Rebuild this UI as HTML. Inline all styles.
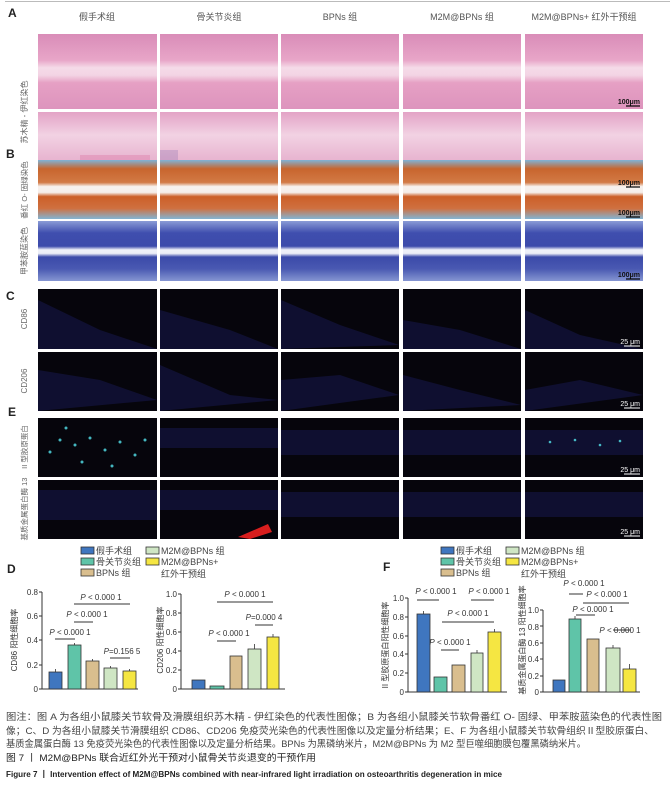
<!DOCTYPE html>
<html><head><meta charset="utf-8"><style>
html,body{margin:0;padding:0;background:#fff;}
svg{display:block;}
text{font-family:"Liberation Sans","Noto Sans CJK SC",sans-serif;}
</style></head><body>
<svg width="670" height="790" viewBox="0 0 670 790" xmlns="http://www.w3.org/2000/svg">
<defs>
<linearGradient id="he1" x1="0" y1="0" x2="0" y2="1">
<stop offset="0" stop-color="#d98cb8"/><stop offset="0.35" stop-color="#e8a6c8"/><stop offset="0.45" stop-color="#f5dbe8"/><stop offset="0.55" stop-color="#f3d4e4"/><stop offset="0.65" stop-color="#e6a0c4"/><stop offset="1" stop-color="#dd94bd"/></linearGradient>
<linearGradient id="he2" x1="0" y1="0" x2="0" y2="1">
<stop offset="0" stop-color="#e3a3c6"/><stop offset="0.3" stop-color="#f2d2e3"/><stop offset="0.6" stop-color="#e8b6d1"/><stop offset="1" stop-color="#e2a4c6"/></linearGradient>
<linearGradient id="so" x1="0" y1="0" x2="0" y2="1">
<stop offset="0" stop-color="#7fb3d6"/><stop offset="0.15" stop-color="#c8652e"/><stop offset="0.38" stop-color="#d27a45"/><stop offset="0.45" stop-color="#f7f2ef"/><stop offset="0.55" stop-color="#f5eeea"/><stop offset="0.62" stop-color="#cc5f28"/><stop offset="0.82" stop-color="#cf7040"/><stop offset="1" stop-color="#82b4d4"/></linearGradient>
<linearGradient id="tb" x1="0" y1="0" x2="0" y2="1">
<stop offset="0" stop-color="#8a9bd6"/><stop offset="0.2" stop-color="#3f4eae"/><stop offset="0.42" stop-color="#3d4bab"/><stop offset="0.48" stop-color="#eef0f8"/><stop offset="0.54" stop-color="#eceef7"/><stop offset="0.6" stop-color="#3b4aa9"/><stop offset="0.8" stop-color="#4a59b2"/><stop offset="1" stop-color="#8595d2"/></linearGradient>
</defs>
<line x1="5" y1="1.5" x2="670" y2="1.5" stroke="#bbb" stroke-width="1"/>
<g font-size="12" font-weight="bold" fill="#222">
<text x="8" y="17">A</text><text x="6" y="158">B</text><text x="6" y="300">C</text><text x="8" y="416">E</text><text x="7" y="573">D</text><text x="383" y="571">F</text>
</g>
<g font-size="9" fill="#555" text-anchor="middle">
<text x="97" y="20">假手术组</text><text x="219" y="20">骨关节炎组</text><text x="340" y="20">BPNs 组</text><text x="462" y="20">M2M@BPNs 组</text><text x="584" y="20">M2M@BPNs+ 红外干预组</text>
</g>
<g font-size="8" fill="#666" text-anchor="middle">
<text transform="translate(27,112) rotate(-90)">苏木精 - 伊红染色</text>
<text transform="translate(27,190) rotate(-90)" font-size="7.5">番红 O- 固绿染色</text>
<text transform="translate(27,251) rotate(-90)">甲苯胺蓝染色</text>
<text transform="translate(27,319) rotate(-90)">CD86</text>
<text transform="translate(27,381) rotate(-90)">CD206</text>
<text transform="translate(27,447) rotate(-90)" font-size="7.5">II 型胶原蛋白</text>
<text transform="translate(27,509) rotate(-90)" font-size="7.5">基质金属蛋白酶 13</text>
</g>
<g id="panels">
<rect x="38" y="34" width="119" height="75" fill="url(#he1)"/><rect x="160" y="34" width="118" height="75" fill="url(#he1)"/><rect x="281" y="34" width="118" height="75" fill="url(#he1)"/><rect x="403" y="34" width="118" height="75" fill="url(#he1)"/><rect x="525" y="34" width="118" height="75" fill="url(#he1)"/>
<rect x="38" y="112" width="119" height="77" fill="url(#he2)"/><rect x="160" y="112" width="118" height="77" fill="url(#he2)"/><rect x="281" y="112" width="118" height="77" fill="url(#he2)"/><rect x="403" y="112" width="118" height="77" fill="url(#he2)"/><rect x="525" y="112" width="118" height="77" fill="url(#he2)"/>
<rect x="80" y="155" width="70" height="34" fill="#de6fa0" opacity="0.35"/>
<rect x="160" y="150" width="18" height="30" fill="#8b6fb0" opacity="0.3"/>
<rect x="38" y="160" width="119" height="59" fill="url(#so)"/><rect x="160" y="160" width="118" height="59" fill="url(#so)"/><rect x="281" y="160" width="118" height="59" fill="url(#so)"/><rect x="403" y="160" width="118" height="59" fill="url(#so)"/><rect x="525" y="160" width="118" height="59" fill="url(#so)"/>
<rect x="38" y="221" width="119" height="60" fill="url(#tb)"/><rect x="160" y="221" width="118" height="60" fill="url(#tb)"/><rect x="281" y="221" width="118" height="60" fill="url(#tb)"/><rect x="403" y="221" width="118" height="60" fill="url(#tb)"/><rect x="525" y="221" width="118" height="60" fill="url(#tb)"/>
<g fill="#06050c">
<rect x="38" y="289" width="119" height="60"/><rect x="160" y="289" width="118" height="60"/><rect x="281" y="289" width="118" height="60"/><rect x="403" y="289" width="118" height="60"/><rect x="525" y="289" width="118" height="60"/>
<rect x="38" y="352" width="119" height="59"/><rect x="160" y="352" width="118" height="59"/><rect x="281" y="352" width="118" height="59"/><rect x="403" y="352" width="118" height="59"/><rect x="525" y="352" width="118" height="59"/>
<rect x="38" y="418" width="119" height="59"/><rect x="160" y="418" width="118" height="59"/><rect x="281" y="418" width="118" height="59"/><rect x="403" y="418" width="118" height="59"/><rect x="525" y="418" width="118" height="59"/>
<rect x="38" y="480" width="119" height="59"/><rect x="160" y="480" width="118" height="59"/><rect x="281" y="480" width="118" height="59"/><rect x="403" y="480" width="118" height="59"/><rect x="525" y="480" width="118" height="59"/>
</g>
<g fill="#2a2e9a" opacity="0.25">
<path d="M38 300 L100 330 L157 349 L38 349Z"/><path d="M160 310 L230 330 L278 349 L160 349Z"/><path d="M281 300 L340 325 L399 345 L281 349Z"/><path d="M403 320 L460 330 L521 349 L403 349Z"/><path d="M525 310 L580 335 L643 349 L525 349Z"/>
<path d="M38 370 L100 380 L157 400 L38 411Z"/><path d="M160 365 L230 395 L278 400 L160 411Z"/><path d="M281 380 L340 375 L399 395 L281 411Z"/><path d="M403 375 L460 390 L521 405 L403 411Z"/><path d="M525 390 L580 380 L643 395 L525 411Z"/>
<rect x="160" y="428" width="118" height="20"/><rect x="281" y="430" width="118" height="25"/><rect x="403" y="430" width="118" height="25"/><rect x="525" y="430" width="118" height="25"/>
<rect x="38" y="490" width="119" height="30"/><rect x="160" y="490" width="118" height="20"/><rect x="281" y="492" width="118" height="25"/><rect x="403" y="492" width="118" height="25"/><rect x="525" y="492" width="118" height="25"/>
</g>
<g fill="#4fd6e0" opacity="0.85">
<circle cx="60" cy="440" r="1.5"/><circle cx="75" cy="445" r="1.5"/><circle cx="90" cy="438" r="1.5"/><circle cx="105" cy="450" r="1.5"/><circle cx="120" cy="442" r="1.5"/><circle cx="135" cy="455" r="1.5"/><circle cx="50" cy="452" r="1.5"/><circle cx="145" cy="440" r="1.5"/><circle cx="82" cy="462" r="1.5"/><circle cx="112" cy="466" r="1.5"/><circle cx="66" cy="428" r="1.5"/>
<circle cx="550" cy="442" r="1.3"/><circle cx="575" cy="440" r="1.3"/><circle cx="600" cy="445" r="1.3"/><circle cx="620" cy="441" r="1.3"/>
</g>
<path d="M238 537 L268 524 L272 532 L250 539Z" fill="#d81e1e"/>
</g>
<g font-size="7" font-weight="bold" fill="#111" text-anchor="end">
<text x="640" y="104">100μm</text><text x="640" y="185">100μm</text><text x="640" y="215">100μm</text><text x="640" y="277">100μm</text>
</g>
<g font-size="7" fill="#fff" text-anchor="end">
<text x="640" y="344">25 μm</text><text x="640" y="406">25 μm</text><text x="640" y="472">25 μm</text><text x="640" y="534">25 μm</text>
</g>
<g stroke="#000" stroke-width="1.2">
<line x1="626" y1="106" x2="640" y2="106"/><line x1="626" y1="187" x2="640" y2="187"/><line x1="626" y1="217" x2="640" y2="217"/><line x1="626" y1="279" x2="640" y2="279"/>
</g>
<g stroke="#fff" stroke-width="1"><line x1="624" y1="346" x2="640" y2="346"/><line x1="624" y1="408" x2="640" y2="408"/><line x1="624" y1="474" x2="640" y2="474"/><line x1="624" y1="536" x2="640" y2="536"/></g>

<g font-size="9" fill="#444" stroke-width="0.8">
<rect x="81" y="547" width="13" height="7" fill="#3f76bf" stroke="#333"/><text x="96" y="554">假手术组</text>
<rect x="81" y="558" width="13" height="7" fill="#5fc4a8" stroke="#333"/><text x="96" y="565">骨关节炎组</text>
<rect x="81" y="569" width="13" height="7" fill="#d9be8e" stroke="#333"/><text x="96" y="576">BPNs 组</text>
<rect x="146" y="547" width="13" height="7" fill="#cfe6c4" stroke="#333"/><text x="161" y="554">M2M@BPNs 组</text>
<rect x="146" y="558" width="13" height="7" fill="#f5e642" stroke="#333"/><text x="161" y="565">M2M@BPNs+</text><text x="161" y="577">红外干预组</text>
<rect x="441" y="547" width="13" height="7" fill="#3f76bf" stroke="#333"/><text x="456" y="554">假手术组</text>
<rect x="441" y="558" width="13" height="7" fill="#5fc4a8" stroke="#333"/><text x="456" y="565">骨关节炎组</text>
<rect x="441" y="569" width="13" height="7" fill="#d9be8e" stroke="#333"/><text x="456" y="576">BPNs 组</text>
<rect x="506" y="547" width="13" height="7" fill="#cfe6c4" stroke="#333"/><text x="521" y="554">M2M@BPNs 组</text>
<rect x="506" y="558" width="13" height="7" fill="#f5e642" stroke="#333"/><text x="521" y="565">M2M@BPNs+</text><text x="521" y="577">红外干预组</text>
</g>

<g font-size="8" fill="#333" stroke="none">
<g text-anchor="end"><text x="38" y="692">0</text><text x="38" y="668">0.2</text><text x="38" y="643">0.4</text><text x="38" y="619">0.6</text><text x="38" y="595">0.8</text></g>
<text transform="translate(17,640) rotate(-90)" text-anchor="middle">CD86 阳性细胞率</text>
</g>
<g stroke="#333" stroke-width="1" fill="none"><path d="M42 592 V689 H138 M39 592 H42 M39 616 H42 M39 640 H42 M39 665 H42 M39 689 H42"/></g>
<g stroke="#333" stroke-width="0.8">
<rect x="49" y="672" width="13" height="17" fill="#3f76bf"/><rect x="68" y="645" width="13" height="44" fill="#5fc4a8"/><rect x="86" y="661" width="13" height="28" fill="#d9be8e"/><rect x="104" y="668" width="13" height="21" fill="#cfe6c4"/><rect x="123" y="671" width="13" height="18" fill="#f5e642"/>
<path d="M55.5 672 V669 M74.5 645 V643 M92.5 661 V659 M110.5 668 V666 M129.5 671 V669" fill="none"/>
</g>
<g stroke="#333" stroke-width="1"><line x1="55" y1="639" x2="75" y2="639"/><line x1="74" y1="622" x2="93" y2="622"/><line x1="74" y1="604" x2="130" y2="604"/><line x1="110" y1="658" x2="130" y2="658"/></g>
<g font-size="8" fill="#333" text-anchor="middle">
<text x="70" y="635"><tspan font-style="italic">P</tspan> &lt; 0.000 1</text><text x="87" y="617"><tspan font-style="italic">P</tspan> &lt; 0.000 1</text><text x="101" y="600"><tspan font-style="italic">P</tspan> &lt; 0.000 1</text><text x="122" y="654"><tspan font-style="italic">P</tspan>=0.156 5</text>
</g>

<g font-size="8" fill="#333" text-anchor="end"><text x="177" y="692">0</text><text x="177" y="673">0.2</text><text x="177" y="654">0.4</text><text x="177" y="635">0.6</text><text x="177" y="616">0.8</text><text x="177" y="597">1.0</text></g>
<text transform="translate(163,640) rotate(-90)" text-anchor="middle" font-size="8" fill="#333">CD206 阳性细胞率</text>
<g stroke="#333" stroke-width="1" fill="none"><path d="M181 594 V689 H285 M178 594 H181 M178 613 H181 M178 632 H181 M178 651 H181 M178 670 H181 M178 689 H181"/></g>
<g stroke="#333" stroke-width="0.8">
<rect x="192" y="680" width="13" height="9" fill="#3f76bf"/><rect x="210" y="686" width="14" height="3" fill="#5fc4a8"/><rect x="230" y="656" width="12" height="33" fill="#d9be8e"/><rect x="248" y="649" width="13" height="40" fill="#cfe6c4"/><rect x="267" y="637" width="12" height="52" fill="#f5e642"/>
<path d="M254.5 649 V644 M273 637 V634" fill="none"/>
</g>
<g stroke="#333" stroke-width="1"><line x1="217" y1="641" x2="236" y2="641"/><line x1="217" y1="602" x2="273" y2="602"/><line x1="255" y1="625" x2="273" y2="625"/></g>
<g font-size="8" fill="#333" text-anchor="middle">
<text x="229" y="636"><tspan font-style="italic">P</tspan> &lt; 0.000 1</text><text x="245" y="597"><tspan font-style="italic">P</tspan> &lt; 0.000 1</text><text x="264" y="620"><tspan font-style="italic">P</tspan>=0.000 4</text>
</g>

<g font-size="8" fill="#333" text-anchor="end"><text x="404" y="695">0</text><text x="404" y="676">0.2</text><text x="404" y="657">0.4</text><text x="404" y="639">0.6</text><text x="404" y="620">0.8</text><text x="404" y="601">1.0</text></g>
<text transform="translate(388,645) rotate(-90)" text-anchor="middle" font-size="8" fill="#333">II 型胶原蛋白阳性细胞率</text>
<g stroke="#333" stroke-width="1" fill="none"><path d="M408 598 V692 H507 M405 598 H408 M405 617 H408 M405 636 H408 M405 654 H408 M405 673 H408 M405 692 H408"/></g>
<g stroke="#333" stroke-width="0.8">
<rect x="417" y="614" width="13" height="78" fill="#3f76bf"/><rect x="434" y="677" width="13" height="15" fill="#5fc4a8"/><rect x="452" y="665" width="13" height="27" fill="#d9be8e"/><rect x="471" y="653" width="12" height="39" fill="#cfe6c4"/><rect x="488" y="632" width="13" height="60" fill="#f5e642"/>
<path d="M423.5 614 V611 M477 653 V650 M494.5 632 V629" fill="none"/>
</g>
<g stroke="#333" stroke-width="1"><line x1="417" y1="600" x2="439" y2="600"/><line x1="471" y1="600" x2="494" y2="600"/><line x1="442" y1="622" x2="494" y2="622"/><line x1="441" y1="650" x2="459" y2="650"/></g>
<g font-size="8" fill="#333" text-anchor="middle">
<text x="436" y="594"><tspan font-style="italic">P</tspan> &lt; 0.000 1</text><text x="489" y="594"><tspan font-style="italic">P</tspan> &lt; 0.000 1</text><text x="468" y="616"><tspan font-style="italic">P</tspan> &lt; 0.000 1</text><text x="450" y="645"><tspan font-style="italic">P</tspan> &lt; 0.000 1</text>
</g>

<g font-size="8" fill="#333" text-anchor="end"><text x="539" y="695">0</text><text x="539" y="679">0.2</text><text x="539" y="662">0.4</text><text x="539" y="646">0.6</text><text x="539" y="630">0.8</text><text x="539" y="613">1.0</text></g>
<text transform="translate(525,640) rotate(-90)" text-anchor="middle" font-size="8" fill="#333">基质金属蛋白酶 13 阳性细胞率</text>
<g stroke="#333" stroke-width="1" fill="none"><path d="M543 610 V692 H640 M540 610 H543 M540 626 H543 M540 643 H543 M540 659 H543 M540 676 H543 M540 692 H543"/></g>
<g stroke="#333" stroke-width="0.8">
<rect x="553" y="680" width="12" height="12" fill="#3f76bf"/><rect x="569" y="619" width="12" height="73" fill="#5fc4a8"/><rect x="587" y="639" width="12" height="53" fill="#d9be8e"/><rect x="606" y="648" width="14" height="44" fill="#cfe6c4"/><rect x="623" y="669" width="13" height="23" fill="#f5e642"/>
<path d="M575 619 V616 M613 648 V645 M629.5 669 V664" fill="none"/>
</g>
<g stroke="#333" stroke-width="1"><line x1="569" y1="594" x2="583" y2="594"/><line x1="583" y1="603" x2="629" y2="603"/><line x1="576" y1="615" x2="595" y2="615"/><line x1="613" y1="630" x2="631" y2="630"/></g>
<g font-size="8" fill="#333" text-anchor="middle">
<text x="584" y="586"><tspan font-style="italic">P</tspan> &lt; 0.000 1</text><text x="607" y="597"><tspan font-style="italic">P</tspan> &lt; 0.000 1</text><text x="593" y="612"><tspan font-style="italic">P</tspan> &lt; 0.000 1</text><text x="620" y="633"><tspan font-style="italic">P</tspan> &lt; 0.000 1</text>
</g>

<g font-size="9.6" fill="#444">
<text x="6" y="720" textLength="656" lengthAdjust="spacingAndGlyphs">图注：图 A 为各组小鼠膝关节软骨及滑膜组织苏木精 - 伊红染色的代表性图像；B 为各组小鼠膝关节软骨番红 O- 固绿、甲苯胺蓝染色的代表性图</text>
<text x="6" y="734" textLength="648" lengthAdjust="spacingAndGlyphs">像；C、D 为各组小鼠膝关节滑膜组织 CD86、CD206 免疫荧光染色的代表性图像以及定量分析结果；E、F 为各组小鼠膝关节软骨组织Ⅱ型胶原蛋白、</text>
<text x="6" y="747" textLength="580" lengthAdjust="spacingAndGlyphs">基质金属蛋白酶 13 免疫荧光染色的代表性图像以及定量分析结果。BPNs 为黑磷纳米片，M2M@BPNs 为 M2 型巨噬细胞膜包覆黑磷纳米片。</text>
<text x="6" y="761" fill="#222" font-size="9.5" textLength="310" lengthAdjust="spacingAndGlyphs">图 7 丨 M2M@BPNs 联合近红外光干预对小鼠骨关节炎退变的干预作用</text>
<text x="6" y="777" fill="#222" font-size="8.6" font-weight="bold" textLength="496" lengthAdjust="spacingAndGlyphs">Figure 7 丨 Intervention effect of M2M@BPNs combined with near-infrared light irradiation on osteoarthritis degeneration in mice</text>
</g>
</svg>
</body></html>
